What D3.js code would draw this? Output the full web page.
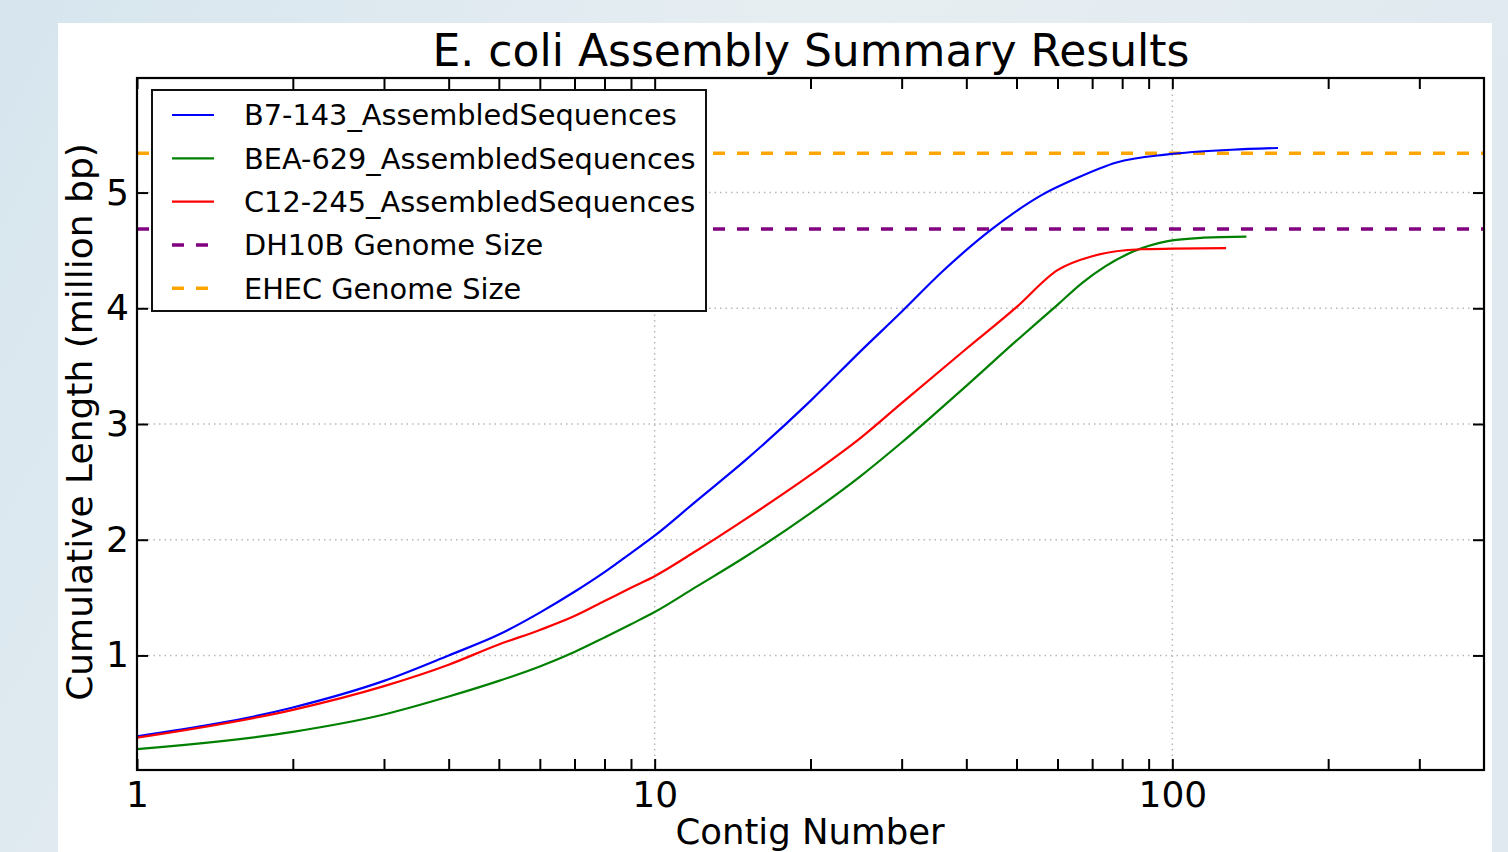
<!DOCTYPE html>
<html>
<head>
<meta charset="utf-8">
<script src="https://cdn.jsdelivr.net/npm/d3@7"></script>
<style>
  body { margin: 0; background: #ffffff; }
  svg { display: block; font-family: "DejaVu Sans", sans-serif; }
</style>
</head>
<body>
<div id="chart"></div>
<script>
// contig numbers and cumulative length (million bp) for each assembly
var contigsB7 = [1, 2, 3, 4, 5, 6, 7, 8, 9, 10, 12, 15, 20, 25, 30, 36, 45, 56, 65, 78, 98, 130, 160];
var lengthB7 = [0.30, 0.55, 0.78, 1.0, 1.18, 1.37, 1.55, 1.72, 1.885, 2.035, 2.33, 2.69, 3.20, 3.63, 3.97, 4.32, 4.69, 4.98, 5.12, 5.26, 5.33, 5.37, 5.385];

var contigsBEA = [1, 2, 3, 4, 5, 6, 7, 8, 9, 10, 12, 15, 20, 25, 30, 40, 50, 60, 67, 84, 98, 115, 139];
var lengthBEA = [0.19, 0.34, 0.49, 0.645, 0.78, 0.905, 1.03, 1.155, 1.27, 1.375, 1.59, 1.855, 2.23, 2.55, 2.84, 3.33, 3.72, 4.03, 4.22, 4.49, 4.58, 4.61, 4.62];

var contigsC12 = [1, 2, 3, 4, 5, 6, 7, 8, 9, 10, 12, 15, 20, 25, 30, 40, 50, 60, 70, 87, 100, 127];
var lengthC12 = [0.29, 0.53, 0.735, 0.92, 1.095, 1.22, 1.34, 1.47, 1.585, 1.685, 1.90, 2.18, 2.56, 2.88, 3.18, 3.65, 4.01, 4.33, 4.45, 4.51, 4.515, 4.52];

var seriesNames = ["B7-143_AssembledSequences", "BEA-629_AssembledSequences", "C12-245_AssembledSequences"];
var seriesColors = ["#0000ff", "#008000", "#ff0000"];

var genomeNames = ["DH10B Genome Size", "EHEC Genome Size"];
var genomeSizes = [4.686, 5.34];
var genomeColors = ["#800080", "#ffa500"];

var xMajorTicks = [1, 10, 100];
var xMinorTicks = [2, 3, 4, 5, 6, 7, 8, 9, 20, 30, 40, 50, 60, 70, 80, 90, 200, 300];
var yTicks = [1, 2, 3, 4, 5];

var W = 1508, H = 852;
var margin = { left: 137, top: 78, right: 24, bottom: 82 };
var width = W - margin.left - margin.right;
var height = H - margin.top - margin.bottom;

var svg = d3.select("#chart").append("svg")
  .attr("width", W)
  .attr("height", H);

// slide background + white figure panel
var defs = svg.append("defs");
var grad = defs.append("linearGradient").attr("id", "bg").attr("x1", 0).attr("x2", 1).attr("y1", 0).attr("y2", 0.3);
grad.append("stop").attr("offset", "0%").attr("stop-color", "#d6e5ee");
grad.append("stop").attr("offset", "50%").attr("stop-color", "#e7eef2");
grad.append("stop").attr("offset", "100%").attr("stop-color", "#dfe9ef");
svg.append("rect").attr("width", W).attr("height", H).style("fill", "url(#bg)");
svg.append("rect").attr("x", 58).attr("y", 23).attr("width", 1434).attr("height", H - 23).style("fill", "#ffffff");

var xScale = d3.scaleLog().domain([1, 400]).range([0, width]);
var yScale = d3.scaleLinear().domain([0.01, 5.99]).range([height, 0]);

var g = svg.append("g").attr("transform", "translate(" + margin.left + "," + margin.top + ")");

// dotted grid
g.selectAll(".hgrid").data(yTicks).enter().append("line")
  .attr("x1", 0).attr("x2", width)
  .attr("y1", function (d) { return yScale(d); })
  .attr("y2", function (d) { return yScale(d); })
  .style("stroke", "#b8b8b8").style("stroke-width", 1.5).style("stroke-dasharray", "1.5,4");
g.selectAll(".vgrid").data(xMajorTicks).enter().append("line")
  .attr("x1", function (d) { return xScale(d); })
  .attr("x2", function (d) { return xScale(d); })
  .attr("y1", 0).attr("y2", height)
  .style("stroke", "#b8b8b8").style("stroke-width", 1.5).style("stroke-dasharray", "1.5,4");

// genome size reference lines
g.selectAll(".genome").data(genomeSizes).enter().append("line")
  .attr("x1", 0).attr("x2", width)
  .attr("y1", function (d) { return yScale(d); })
  .attr("y2", function (d) { return yScale(d); })
  .style("stroke", function (d, i) { return genomeColors[i]; })
  .style("stroke-width", 3.5)
  .style("stroke-dasharray", "12,12");

var line = d3.line()
  .x(function (d) { return xScale(d[0]); })
  .y(function (d) { return yScale(d[1]); })
  .curve(d3.curveMonotoneX);

var seriesData = [
  d3.zip(contigsB7, lengthB7),
  d3.zip(contigsBEA, lengthBEA),
  d3.zip(contigsC12, lengthC12)
];

g.selectAll(".series").data(seriesData).enter().append("path")
  .attr("d", line)
  .style("fill", "none")
  .style("stroke", function (d, i) { return seriesColors[i]; })
  .style("stroke-width", 2.2);

// axes with inward ticks on all four sides
function styleAxis(sel) {
  sel.select(".domain").remove();
  sel.selectAll(".tick line").style("stroke", "#000").style("stroke-width", 2);
  sel.selectAll("text").style("font-family", "DejaVu Sans").style("font-size", "36px").style("fill", "#000");
}

var xTickFmt = function (d) { return xMajorTicks.indexOf(d) >= 0 ? d3.format("d")(d) : ""; };
var allX = xMajorTicks.concat(xMinorTicks);

g.append("g").attr("transform", "translate(0," + height + ")")
  .call(d3.axisBottom(xScale).tickValues(allX).tickFormat(xTickFmt).tickSizeInner(-11).tickSizeOuter(0).tickPadding(11))
  .call(styleAxis);
g.append("g")
  .call(d3.axisTop(xScale).tickValues(allX).tickFormat("").tickSizeInner(-11).tickSizeOuter(0))
  .call(styleAxis);
g.append("g")
  .call(d3.axisLeft(yScale).tickValues(yTicks).tickFormat(d3.format("d")).tickSizeInner(-11).tickSizeOuter(0).tickPadding(8))
  .call(styleAxis);
g.append("g").attr("transform", "translate(" + width + ",0)")
  .call(d3.axisRight(yScale).tickValues(yTicks).tickFormat("").tickSizeInner(-11).tickSizeOuter(0))
  .call(styleAxis);

g.append("rect")
  .attr("width", width).attr("height", height)
  .style("fill", "none").style("stroke", "#000").style("stroke-width", 2.2);

// legend
var legendItems = seriesNames.concat(genomeNames);
var legendColors = seriesColors.concat(genomeColors);
var legend = svg.append("g").attr("transform", "translate(152,90)");
legend.append("rect")
  .attr("width", 554).attr("height", 221)
  .style("fill", "#fff").style("stroke", "#111").style("stroke-width", 2);
legend.selectAll(".lline").data(legendItems).enter().append("line")
  .attr("x1", 20).attr("x2", 62)
  .attr("y1", function (d, i) { return 25 + i * 43.3; })
  .attr("y2", function (d, i) { return 25 + i * 43.3; })
  .style("stroke", function (d, i) { return legendColors[i]; })
  .style("stroke-width", function (d, i) { return i < 3 ? 2.2 : 3.5; })
  .style("stroke-dasharray", function (d, i) { return i < 3 ? null : "12,12"; });
legend.selectAll(".ltext").data(legendItems).enter().append("text")
  .attr("x", 92)
  .attr("y", function (d, i) { return 25 + i * 43.3; })
  .attr("dy", "0.36em")
  .text(function (d) { return d; })
  .style("font-size", "28.8px")
  .style("fill", "#000");

// titles
svg.append("text")
  .attr("x", 811).attr("y", 66)
  .attr("text-anchor", "middle")
  .style("font-size", "44px")
  .text("E. coli Assembly Summary Results");

svg.append("text")
  .attr("x", 810).attr("y", 844)
  .attr("text-anchor", "middle")
  .style("font-size", "35.5px")
  .text("Contig Number");

svg.append("text")
  .attr("transform", "translate(92,422) rotate(-90)")
  .attr("text-anchor", "middle")
  .style("font-size", "36px")
  .text("Cumulative Length (million bp)");
</script>
</body>
</html>
